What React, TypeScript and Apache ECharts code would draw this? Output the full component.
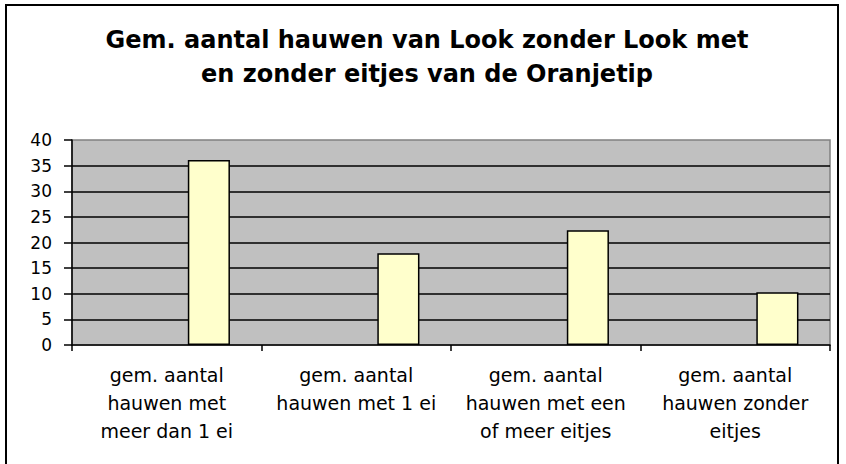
import React, { useEffect, useRef } from "react";
import * as echarts from "echarts";

const titleLines = [
  "Gem. aantal hauwen van Look zonder Look met",
  "en zonder eitjes van de Oranjetip",
];
const categories = [
  "gem. aantal\nhauwen met\nmeer dan 1 ei",
  "gem. aantal\nhauwen met 1 ei",
  "gem. aantal\nhauwen met een\nof meer eitjes",
  "gem. aantal\nhauwen zonder\neitjes",
];
const values = [36.1, 17.9, 22.4, 10.3];
const emptyValues = ["-", "-", "-", "-"];

const FONT = "'DejaVu Sans', Arial, sans-serif";

export default function App() {
  const ref = useRef<HTMLDivElement>(null);
  useEffect(() => {
    if (!ref.current) return;
    const chart = echarts.init(ref.current, null, { renderer: "svg" });
    chart.setOption({
      animation: false,
      backgroundColor: "#ffffff",
      title: {
        text: titleLines.join("\n"),
        left: 427,
        top: 23,
        padding: 0,
        textAlign: "center",
        textStyle: {
          fontFamily: FONT,
          fontWeight: "bold",
          fontSize: 24,
          lineHeight: 34,
          color: "#000",
        },
      },
      grid: {
        left: 72,
        right: 16,
        top: 140,
        bottom: 119,
        show: true,
        backgroundColor: "#C0C0C0",
        borderColor: "#808080",
        borderWidth: 1.5,
      },
      xAxis: {
        type: "category",
        data: categories,
        boundaryGap: true,
        axisLine: { show: true, lineStyle: { color: "#000", width: 1.5 } },
        axisTick: {
          show: true,
          inside: false,
          length: 6,
          alignWithLabel: false,
          lineStyle: { color: "#000", width: 1.5 },
        },
        axisLabel: {
          interval: 0,
          margin: 16,
          fontFamily: FONT,
          fontSize: 19,
          lineHeight: 28,
          color: "#000",
          align: "center",
        },
        splitLine: { show: false },
      },
      yAxis: {
        type: "value",
        min: 0,
        max: 40,
        interval: 5,
        axisLine: { show: true, lineStyle: { color: "#000", width: 1.5 } },
        axisTick: {
          show: true,
          inside: false,
          length: 8,
          lineStyle: { color: "#000", width: 1.5 },
        },
        axisLabel: {
          margin: 20,
          fontFamily: FONT,
          fontSize: 17,
          color: "#000",
        },
        splitLine: {
          show: true,
          showMinLine: false,
          showMaxLine: false,
          lineStyle: { color: "#000", width: 1.5 },
        },
      },
      series: [
        {
          type: "bar",
          data: emptyValues,
          barGap: "0%",
          barCategoryGap: "33.3%",
        },
        {
          type: "bar",
          data: emptyValues,
          barGap: "0%",
          barCategoryGap: "33.3%",
        },
        {
          type: "bar",
          data: values,
          barGap: "0%",
          barCategoryGap: "33.3%",
          itemStyle: {
            color: "#FFFFCC",
            borderColor: "#000",
            borderWidth: 1.5,
          },
        },
      ],
      graphic: [
        {
          type: "rect",
          silent: true,
          z: 100,
          shape: { x: 6, y: 5, width: 832, height: 480 },
          style: { fill: "none", stroke: "#000", lineWidth: 2 },
        },
      ],
    });
    return () => chart.dispose();
  }, []);
  return (
    <div
      ref={ref}
      style={{ position: "fixed", left: 0, top: 0, width: 846, height: 464 }}
    />
  );
}
